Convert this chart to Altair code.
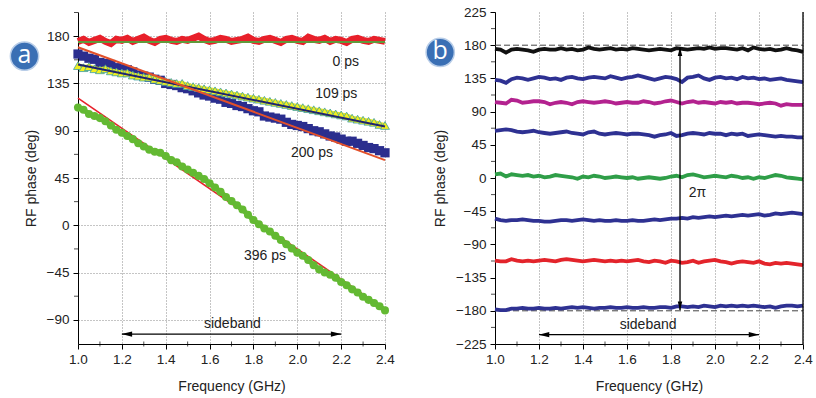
import altair as alt
import pandas as pd

FONT = "Liberation Sans"
TXT = "#222222"

# ---------------- data ----------------
FREQ = [1.000, 1.025, 1.050, 1.075, 1.100, 1.125, 1.150, 1.175, 1.200, 1.225,
        1.250, 1.275, 1.300, 1.325, 1.350, 1.375, 1.400, 1.425, 1.450, 1.475,
        1.500, 1.525, 1.550, 1.575, 1.600, 1.625, 1.650, 1.675, 1.700, 1.725,
        1.750, 1.775, 1.800, 1.825, 1.850, 1.875, 1.900, 1.925, 1.950, 1.975,
        2.000, 2.025, 2.050, 2.075, 2.100, 2.125, 2.150, 2.175, 2.200, 2.225,
        2.250, 2.275, 2.300, 2.325, 2.350, 2.375, 2.400]

# panel a
PS0 = [175, 177, 174, 176, 178, 175, 173, 177, 176, 178, 175, 177, 179, 176, 174,
       177, 178, 176, 175, 177, 176, 178, 180, 177, 175, 176, 178, 177, 175, 176,
       177, 179, 176, 175, 177, 178, 176, 174, 177, 178, 176, 175, 179, 177, 176,
       178, 175, 177, 176, 174, 177, 178, 176, 175, 177, 176, 175]
PS109 = [152, 150, 151, 149, 148, 149, 147, 146, 145, 145, 143, 142, 141, 141, 139,
         138, 137, 136, 135, 135, 133, 132, 131, 130, 129, 128, 127, 126, 125, 124,
         123, 122, 121, 120, 119, 118, 117, 116, 115, 114, 113, 112, 111, 110, 109,
         108, 107, 106, 105, 104, 102, 101, 100, 99, 98, 96, 95]
PS200 = [163, 161, 159, 158, 155, 154, 153, 150, 149, 148, 146, 143, 142, 141, 139,
         138, 135, 134, 133, 131, 130, 128, 126, 124, 123, 121, 120, 117, 116, 114,
         113, 111, 109, 108, 104, 103, 102, 101, 98, 96, 95, 94, 92, 90, 89,
         87, 85, 84, 82, 80, 80, 78, 76, 74, 73, 71, 69]
PS396 = [112, 110, 106, 104, 102, 99, 95, 91, 88, 85, 82, 78, 75, 72, 70,
         69, 66, 62, 60, 56, 53, 50, 47, 44, 40, 36, 32, 27, 23, 19,
         15, 10, 5, 1, -3, -6, -10, -14, -18, -22, -26, -29, -33, -38, -42,
         -45, -47, -50, -54, -57, -61, -64, -68, -71, -74, -77, -81]
FIT_F = [1.0, 2.4]
FIT0 = [174.5, 174.5]
FIT109 = [153, 94]
FIT200 = [169.5, 62]
FIT396 = [121, -80]

# panel b
B_BLACK = [175, 174, 170, 174, 175, 174, 173, 171, 174, 175, 174, 174, 176, 174, 175,
           173, 174, 177, 175, 174, 175, 176, 174, 175, 174, 176, 175, 174, 173, 174,
           175, 174, 173, 176, 175, 174, 175, 176, 175, 177, 175, 176, 176, 175, 174,
           176, 173, 177, 175, 174, 175, 173, 174, 176, 174, 173, 171]
B_NAVY1 = [133, 132, 129, 134, 136, 135, 133, 135, 137, 136, 134, 135, 133, 136, 137,
           135, 134, 136, 137, 136, 135, 138, 136, 134, 136, 137, 139, 137, 135, 133,
           135, 137, 136, 134, 130, 136, 137, 139, 135, 133, 136, 137, 135, 136, 134,
           137, 135, 136, 134, 135, 133, 134, 135, 133, 132, 131, 130]
B_MAGENTA = [103, 102, 101, 106, 105, 102, 103, 104, 104, 103, 100, 102, 103, 102, 100,
             103, 104, 103, 102, 103, 104, 103, 101, 102, 103, 102, 102, 104, 103, 101,
             102, 104, 105, 103, 101, 103, 104, 102, 103, 102, 101, 103, 102, 103, 101,
             102, 102, 101, 100, 101, 102, 101, 98, 100, 99, 99, 99]
B_NAVY2 = [64, 65, 66, 65, 63, 62, 63, 64, 62, 61, 60, 61, 62, 63, 61,
           60, 59, 62, 63, 60, 59, 60, 61, 60, 59, 60, 60, 59, 58, 56,
           58, 59, 61, 57, 58, 60, 61, 60, 59, 61, 60, 60, 58, 60, 59,
           60, 57, 58, 59, 58, 57, 56, 57, 56, 56, 55, 55]
B_GREEN = [5, 6, 2, 5, 4, 3, 4, 2, 3, 1, 2, 4, 3, 2, 1,
           -1, 2, 1, 3, 2, 0, 1, 2, 1, 0, 1, -1, 0, 1, 0,
           -1, 0, 2, 3, 1, 4, 5, 3, 1, 2, 3, 2, 1, 3, 2,
           0, 1, -1, 1, 0, 2, 4, 3, 1, 0, -1, -2]
B_NAVY3 = [-55, -57, -58, -57, -57, -56, -57, -58, -58, -59, -59, -58, -57, -57, -58,
           -57, -56, -57, -58, -57, -58, -58, -57, -58, -58, -57, -58, -58, -57, -56,
           -57, -56, -55, -55, -54, -55, -53, -54, -53, -52, -53, -52, -51, -52, -51,
           -50, -51, -50, -49, -51, -50, -48, -49, -48, -47, -48, -49]
B_RED = [-112, -113, -113, -110, -112, -113, -112, -113, -112, -111, -112, -113, -111, -110, -111,
         -112, -113, -112, -111, -112, -113, -112, -113, -112, -113, -112, -111, -113, -114, -112,
         -113, -115, -112, -113, -115, -114, -112, -115, -113, -112, -111, -113, -114, -116, -114,
         -113, -114, -115, -113, -116, -117, -115, -116, -115, -116, -117, -118]
B_NAVY4 = [-178, -179, -179, -177, -177, -176, -177, -177, -176, -177, -177, -176, -177, -176, -175,
           -176, -175, -176, -177, -176, -176, -175, -176, -176, -175, -176, -176, -175, -176, -176,
           -175, -175, -176, -174, -174, -175, -174, -175, -173, -174, -175, -173, -174, -173, -174,
           -173, -174, -173, -174, -175, -174, -176, -174, -173, -173, -174, -173]

XMAJ = [1.0, 1.2, 1.4, 1.6, 1.8, 2.0, 2.2, 2.4]
XMIN = [1.1, 1.3, 1.5, 1.7, 1.9, 2.1, 2.3]
YL_MAJ = [-90, -45, 0, 45, 90, 135, 180]
YL_MIN = [-67.5, -22.5, 22.5, 67.5, 112.5, 157.5, 202.5]
YR_MAJ = [-225, -180, -135, -90, -45, 0, 45, 90, 135, 180, 225]
YR_MIN = [-202.5, -157.5, -112.5, -67.5, -22.5, 22.5, 67.5, 112.5, 157.5, 202.5]
XDOM = [1.0, 2.4]
YL_DOM = [-113, 203]
YR_DOM = [-225, 225]

# annotation anchors (data units)
A_LABELS = ["0 ps", "109 ps", "200 ps", "396 ps"]
A_LABEL_F = [2.221, 2.178, 2.067, 1.853]
A_LABEL_V = [155.7, 124.6, 68.5, -29.2]
A_SIDE_F, A_SIDE_V = [1.704], [-94.1]
A_ARROW = ([1.2], [2.2], [-103.6])
B_SIDE_F, B_SIDE_V = [1.696], [-198.8]
B_ARROW = ([1.2], [2.2], [-212.4])
B_PI = ([1.92], [-19.7])
B_VARROW = ([1.841], [-179], [177])
B_DASH = [180, -180]
BADGE_A = ([0.756], [161])
BADGE_B = ([0.751], [170.3])


def df(f, v, **extra):
    d = pd.DataFrame({"f": f, "v": v})
    for k, val in extra.items():
        d[k] = val
    return d


def enc_x():
    return alt.X("f:Q", scale=alt.Scale(domain=XDOM, nice=False, zero=False),
                 axis=alt.Axis(values=XMAJ, format=".1f", grid=True, gridDash=[1, 2],
                               gridColor="#8a8a8a", tickSize=5, tickColor="black",
                               domainColor="black", labelPadding=3, labelFont=FONT,
                               labelFontSize=13.5, labelColor=TXT, labelFlush=False,
                               labelOverlap=False, title="Frequency (GHz)", titleFont=FONT,
                               titleFontSize=14, titleFontWeight="normal", titleColor=TXT,
                               titlePadding=14))


def enc_y(dom, vals, grid):
    return alt.Y("v:Q", scale=alt.Scale(domain=dom, nice=False, zero=False),
                 axis=alt.Axis(values=vals, format="d", grid=grid, gridDash=[1, 2],
                               gridColor="#8a8a8a", tickSize=5, tickColor="black",
                               domainColor="black", labelPadding=4, labelFont=FONT,
                               labelFontSize=13.5, labelColor=TXT, labelOverlap=False,
                               title="RF phase (deg)", titleFont=FONT, titleFontSize=14,
                               titleFontWeight="normal", titleColor=TXT, titlePadding=8))


def panel(dom, ymaj, ymin, grid_y, layers_fn):
    X = enc_x()
    Y = enc_y(dom, ymaj, grid_y)
    layers = []
    # minor ticks
    layers.append(alt.Chart(df(XMIN, [dom[0]] * len(XMIN))).mark_tick(
        orient="vertical", size=5, thickness=1, color="black").encode(x=X, y=Y))
    layers.append(alt.Chart(df([XDOM[0]] * len(ymin), ymin)).mark_tick(
        orient="horizontal", size=4, thickness=1, color="black", xOffset=-2).encode(x=X, y=Y))
    layers += layers_fn(X, Y)
    return alt.layer(*layers)


def text_layer(X, Y, f, v, t, size=14, color=TXT, font=FONT, align="center"):
    return alt.Chart(df(f, v, t=t)).mark_text(
        font=font, fontSize=size, color=color, align=align, baseline="middle"
    ).encode(x=X, y=Y, text="t:N")


def hd_arrow(X, Y, f1, f2, v):
    rule = alt.Chart(pd.DataFrame({"f": f1, "f2": f2, "v": v})).mark_rule(
        color="black", strokeWidth=1.3).encode(x=X, x2="f2:Q", y=Y)
    left = alt.Chart(df(f1, v)).mark_point(
        shape="M-1,0L1,-0.5L1,0.5Z", filled=True, size=110, color="black", opacity=1,
        xOffset=5).encode(x=X, y=Y)
    right = alt.Chart(df(f2, v)).mark_point(
        shape="M1,0L-1,-0.5L-1,0.5Z", filled=True, size=110, color="black", opacity=1,
        xOffset=-5).encode(x=X, y=Y)
    return [rule, left, right]


def badge(X, Y, f, v, letter):
    circ = alt.Chart(df(f, v)).mark_point(
        shape="circle", filled=True, size=800, fill="#3a6fb4", stroke="#b8cde8",
        strokeWidth=1.5, opacity=1).encode(x=X, y=Y)
    txt = alt.Chart(df(f, v, t=[letter])).mark_text(
        font="Open Sans", fontSize=25, color="white", baseline="middle", dy=-1
    ).encode(x=X, y=Y, text="t:N")
    return [circ, txt]


def left_layers(X, Y):
    L = []
    L.append(alt.Chart(df(FREQ, PS0)).mark_line(color="#e8202a", strokeWidth=7).encode(x=X, y=Y))
    L.append(alt.Chart(df(FIT_F, FIT0)).mark_line(color="#5f9a3a", strokeWidth=2).encode(x=X, y=Y))
    L.append(alt.Chart(df(FREQ, PS200)).mark_line(color="#2b2e8e", strokeWidth=6).encode(x=X, y=Y))
    L.append(alt.Chart(df(FREQ, PS200)).mark_point(
        shape="square", filled=True, size=85, color="#2b2e8e", opacity=1).encode(x=X, y=Y))
    L.append(alt.Chart(df(FREQ, PS109)).mark_line(color="#e8e61e", strokeWidth=5).encode(x=X, y=Y))
    L.append(alt.Chart(df(FREQ, PS109)).mark_point(
        shape="triangle-up", filled=True, size=80, fill="#f3ef1c", stroke="#3c9ea6",
        strokeWidth=0.8, opacity=1).encode(x=X, y=Y))
    L.append(alt.Chart(df(FIT_F, FIT109)).mark_line(color="#1f2370", strokeWidth=2).encode(x=X, y=Y))
    L.append(alt.Chart(df(FIT_F, FIT200)).mark_line(color="#e2502a", strokeWidth=2).encode(x=X, y=Y))
    L.append(alt.Chart(df(FIT_F, FIT396)).mark_line(color="#e8202a", strokeWidth=1.6).encode(x=X, y=Y))
    L.append(alt.Chart(df(FREQ, PS396)).mark_line(color="#63b932", strokeWidth=5).encode(x=X, y=Y))
    L.append(alt.Chart(df(FREQ, PS396)).mark_point(
        shape="circle", filled=True, size=65, color="#63b932", opacity=1).encode(x=X, y=Y))
    L.append(text_layer(X, Y, A_LABEL_F, A_LABEL_V, A_LABELS))
    L.append(text_layer(X, Y, A_SIDE_F, A_SIDE_V, ["sideband"]))
    L += hd_arrow(X, Y, *A_ARROW)
    L += badge(X, Y, *BADGE_A, "a")
    return L


def right_layers(X, Y):
    L = []
    L.append(alt.Chart(pd.DataFrame({"f": [XDOM[0]] * 2, "f2": [XDOM[1]] * 2, "v": B_DASH})).mark_rule(
        color="#444444", strokeWidth=1, strokeDash=[6, 3]).encode(x=X, x2="f2:Q", y=Y))
    series = [(B_BLACK, "#111111"), (B_NAVY1, "#2e3192"), (B_MAGENTA, "#b3228f"),
              (B_NAVY2, "#2e3192"), (B_GREEN, "#2f9e48"), (B_NAVY3, "#2e3192"),
              (B_RED, "#e3242b"), (B_NAVY4, "#2e3192")]
    for vals, col in series:
        L.append(alt.Chart(df(FREQ, vals)).mark_line(color=col, strokeWidth=3.8).encode(x=X, y=Y))
    # right border at 2.4
    L.append(alt.Chart(pd.DataFrame({"f": [XDOM[1]], "v": [YR_DOM[0]], "v2": [YR_DOM[1]]})).mark_rule(
        color="black", strokeWidth=1.3).encode(x=X, y=Y, y2="v2:Q"))
    # 2pi vertical double arrow
    vf, vlo, vhi = B_VARROW
    L.append(alt.Chart(pd.DataFrame({"f": vf, "v": vlo, "v2": vhi})).mark_rule(
        color="black", strokeWidth=1.3).encode(x=X, y=Y, y2="v2:Q"))
    L.append(alt.Chart(df(vf, vhi)).mark_point(
        shape="M0,-1L-0.5,1L0.5,1Z", filled=True, size=80, color="black", opacity=1,
        yOffset=4).encode(x=X, y=Y))
    L.append(alt.Chart(df(vf, vlo)).mark_point(
        shape="M0,1L-0.5,-1L0.5,-1Z", filled=True, size=80, color="black", opacity=1,
        yOffset=-4).encode(x=X, y=Y))
    L.append(text_layer(X, Y, B_PI[0], B_PI[1], ["2π"]))
    L.append(text_layer(X, Y, B_SIDE_F, B_SIDE_V, ["sideband"]))
    L += hd_arrow(X, Y, *B_ARROW)
    L += badge(X, Y, *BADGE_B, "b")
    return L


left = panel(YL_DOM, YL_MAJ, YL_MIN, True, left_layers).properties(width=307, height=332)
right = panel(YR_DOM, YR_MAJ, YR_MIN, False, right_layers).properties(width=308, height=332)

chart = alt.hconcat(left, right, spacing=24).properties(
    padding={"left": 7, "top": 5, "right": 0, "bottom": 0},
    background="white",
).configure_view(stroke=None)

chart.save("out.html", embed_options={"renderer": "svg", "actions": False})
